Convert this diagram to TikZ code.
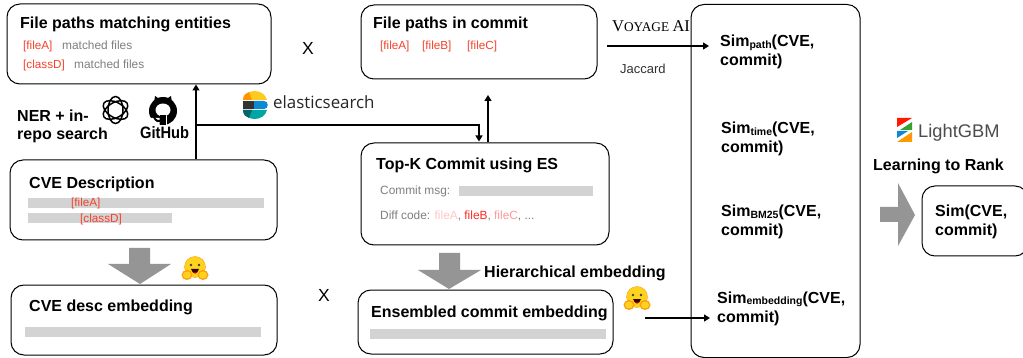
\documentclass[tikz,border=0pt]{standalone}
\usepackage{fontspec}
\setmainfont{Liberation Sans}
\newfontfamily\serifvoy{Liberation Serif}
\newfontfamily\elastic{Open Sans}
\usetikzlibrary{arrows.meta}
\definecolor{redtxt}{HTML}{F4432C}
\definecolor{graytxt}{HTML}{7F7F7F}
\definecolor{barc}{HTML}{D3D3D3}
\definecolor{arrowc}{HTML}{959595}
\definecolor{hugy}{HTML}{FFD21E}
\definecolor{hugo}{HTML}{FF9D0B}
\newcommand{\fs}[1]{\fontsize{#1}{#1}\selectfont}
\newcommand{\hugface}[1]{%
  \begin{scope}[shift={(#1)}]
    \fill[hugy,draw=hugo,line width=.4pt] (0,-1) circle (10.5);
    \fill[hugo] (-8,7) ellipse (5.5 and 5); \fill[hugo] (8,7) ellipse (5.5 and 5);
    \fill[hugy] (-8,7) ellipse (4 and 3.5); \fill[hugy] (8,7) ellipse (4 and 3.5);
    \fill[black!75] (-4,-3) circle (1.3); \fill[black!75] (4,-3) circle (1.3);
    \fill[black!80!red] (-4,1) .. controls (-2,7) and (2,7) .. (4,1) -- cycle;
    \fill[red!75!black] (-2,4) .. controls (-1,6) and (1,6) .. (2,4) -- cycle;
  \end{scope}}
\tikzset{x=1pt,y=-1pt,
  rbox/.style={draw=black,line width=1pt,rounded corners=13pt,fill=white,inner sep=0pt},
  ttl/.style={anchor=base west,inner sep=0pt,font=\bfseries\fs{16}},
  simt/.style={anchor=base west,inner sep=0pt,font=\bfseries\fs{16}},
  red11/.style={anchor=base west,inner sep=0pt,text=redtxt,font=\fs{11.7}},
  gray11/.style={anchor=base west,inner sep=0pt,text=graytxt,font=\fs{11.9}},
  conn/.style={draw=black,line width=1.3pt,-{Triangle[length=6pt,width=7pt]}},
  bar/.style={fill=barc,draw=none},
  blockarrow/.style={fill=arrowc,draw=none}}
\newcommand{\sbs}[1]{{\fs{10.5}\raisebox{-1.5pt}{#1}}}
\begin{document}
\begin{tikzpicture}
\useasboundingbox (0,0) rectangle (1023,358);
\fill[white] (0,0) rectangle (1023,358);

% boxes
\node[rbox,minimum width=264pt,minimum height=80pt] (A) at (139,44) {};
\node[rbox,minimum width=236pt,minimum height=74pt] (B) at (479,42) {};
\node[rbox,minimum width=267pt,minimum height=80pt] (C) at (143.5,200) {};
\node[rbox,minimum width=248pt,minimum height=102pt] (D) at (485,194) {};
\node[rbox,minimum width=266pt,minimum height=70pt] (E) at (144,320) {};
\node[rbox,minimum width=255pt,minimum height=64pt] (F) at (485.5,322) {};
\node[rbox,minimum width=169pt,minimum height=353pt] (G) at (775.5,181) {};
\node[rbox,minimum width=106pt,minimum height=70pt] (H) at (975,221) {};

% bars
\fill[bar] (28,198) rectangle (264,208);
\fill[bar] (28,213) rectangle (172,223);
\fill[bar] (25,327) rectangle (261,337);
\fill[bar] (459,186) rectangle (593,196);
\fill[bar] (370,329) rectangle (606,339);

% titles
\node[ttl] (tA) at (20,28.5) {File paths matching entities};
\node[ttl] (tB) at (373,28.5) {File paths in commit};
\node[ttl] (tC) at (29,188.7) {CVE Description};
\node[ttl] (tD) at (376,169.7) {Top-K Commit using ES};
\node[ttl] (tE) at (29,311.7) {CVE desc embedding};
\node[ttl] (tF) at (371,317.7) {Ensembled commit embedding};
\node[ttl] (tHi) at (484,277.7) {Hierarchical embedding};
\node[ttl] (tL) at (873,171) {Learning to Rank};
\node[ttl] (n1) at (17,122) {NER + in-};
\node[ttl] (n2) at (17,140) {repo search};

% small labels
\node[red11] (a1) at (23,50) {[fileA]};
\node[gray11] (a2) at (62,50) {matched files};
\node[red11] (a3) at (23,69) {[classD]};
\node[gray11] (a4) at (74,69) {matched files};
\node[red11] (b1) at (380,50) {[fileA]};
\node[red11] (b2) at (422,50) {[fileB]};
\node[red11] (b3) at (467,50) {[fileC]};
\node[red11] (c1) at (71,207) {[fileA]};
\node[red11] (c2) at (80,223) {[classD]};
\node[gray11] (d1) at (380,195) {Commit msg:};
\node[gray11] (d2) at (380,220) {Diff code: \textcolor{red!22}{fileA}, \textcolor{red!85}{fileB}, \textcolor{red!40}{fileC}, ...};
\node[anchor=base west,inner sep=0pt,text=black!80,font=\fs{13}] (jac) at (620,73.5) {Jaccard};

% X marks
\node[inner sep=0pt,font=\fs{17.5}] (x1) at (308,48) {X};
\node[inner sep=0pt,font=\fs{17.5}] (x2) at (324,295) {X};

% voyage
\node[anchor=base west,inner sep=0pt,font=\serifvoy\fs{16.5}] (voy) at (612,32) {V\fs{13.3}OYAGE \fs{16.5}AI};

% sim labels
\node[simt] (s1) at (720,47) {Sim\sbs{path}(CVE,};
\node[simt] (s1b) at (720,66) {commit)};
\node[simt] (s2) at (721,134) {Sim\sbs{time}(CVE,};
\node[simt] (s2b) at (721,153) {commit)};
\node[simt] (s3) at (721,217) {Sim\sbs{BM25}(CVE,};
\node[simt] (s3b) at (721,236) {commit)};
\node[simt] (s4) at (717,303) {Sim\sbs{embedding}(CVE,};
\node[simt] (s4b) at (717,322) {commit)};
\node[simt] (s5) at (935,217) {Sim(CVE,};
\node[simt] (s5b) at (935,236) {commit)};

% connectors
\coordinate (p1) at (196,125);
\coordinate (p2) at (479,125);
\coordinate (v0) at (607,46);
\coordinate (v1) at (709,46);
\coordinate (e0) at (645,318);
\coordinate (e1) at (710,318);
\coordinate (u1) at (488,95);
\draw[conn] (C.north -| p1) -- (A.south -| p1);
\draw[conn] (p1) -- (p2) -- ([yshift=1pt]D.north -| p2);
\draw[conn] (D.north -| u1) -- (u1);
\draw[conn] (v0) -- (v1);
\draw[conn] (e0) -- (e1);

% block arrows
\fill[blockarrow] (129,248) -- (150,248) -- (150,264) -- (171,264) -- (140,284) -- (108,264) -- (129,264) -- cycle;
\fill[blockarrow] (439,253) -- (460,253) -- (460,270) -- (481,270) -- (449,289) -- (418,270) -- (439,270) -- cycle;
\fill[blockarrow] (880,207) -- (898,207) -- (898,183) -- (915,215) -- (898,246) -- (898,222) -- (880,222) -- cycle;

% hugging faces
\hugface{195,268}
\hugface{637,298}

% OpenAI logo
\begin{scope}[shift={(115.5,110)}]
  \foreach \a in {0,60,120}
    \draw[black,line width=1.5pt,rotate=\a+30] (0,0) ellipse (13.5 and 7.5);
\end{scope}

% GitHub logo
\begin{scope}[shift={(163,111)}]
  \fill[black] (0,0) circle (14);
  \fill[white] (0,-1) ellipse (7.5 and 6.5);
  \fill[black] (-9,-8) -- (-8,-15) -- (-2,-11) -- cycle;
  \fill[black] (9,-8) -- (8,-15) -- (2,-11) -- cycle;
  \fill[white] (-3.5,5) rectangle (3.5,15);
  \fill[black] (-3,4) rectangle (3,14);
  \fill[white] (-14,7) -- (-3.5,7) -- (-3.5,15) -- (-10,15) -- cycle;
  \fill[black] (-11,4) .. controls (-7,6) and (-7,10) .. (-3,9) -- (-3,11) .. controls (-8,12) and (-9,8) .. (-11,4) -- cycle;
\end{scope}
\node[anchor=base west,inner sep=0pt,font=\bfseries\fs{15}] (gh) at (140,139) {\scalebox{.98}[1.1]{GitHub}};

% elasticsearch logo
\begin{scope}[shift={(255,105)}]
  \fill[hugy!90!orange] (-12,-5) .. controls (-10,-17) and (9,-17) .. (12,-5) -- cycle;
  \fill[orange!85!yellow] (-12,-5) .. controls (-12,-10) and (-9,-12) .. (-6,-13) -- (-3,-5) -- cycle;
  \fill[black!80] (-12.5,-4) rectangle (-1,4);
  \fill[cyan!70!blue] (-1,-4) -- (9,-4) .. controls (14,-4) and (14,4) .. (9,4) -- (-1,4) -- cycle;
  \fill[teal!70!cyan] (-12,5) .. controls (-10,17) and (9,17) .. (12,5) -- cycle;
  \fill[teal!80!black] (-12,5) .. controls (-12,10) and (-9,12) .. (-6,13) -- (-3,5) -- cycle;
\end{scope}
\node[anchor=base west,inner sep=0pt,text=black!85,font=\elastic\fs{16.9}] (es) at (273,109) {elasticsearch};

% LightGBM logo
\begin{scope}[shift={(897,118)}]
  \fill[red!80!orange] (0,0) -- (15,0) -- (0,9) -- cycle;
  \fill[green!55!black!80] (15,4) -- (15,12) -- (3,12) -- cycle;
  \fill[cyan!70!blue] (0,13) -- (11,13) -- (0,20) -- cycle;
  \fill[orange!80!yellow] (15,14) -- (15,24) -- (0,24) -- cycle;
\end{scope}
\node[anchor=base west,inner sep=0pt,text=black!70,font=\fs{18.3}] (lg) at (918,138) {LightGBM};
\end{tikzpicture}
\end{document}
